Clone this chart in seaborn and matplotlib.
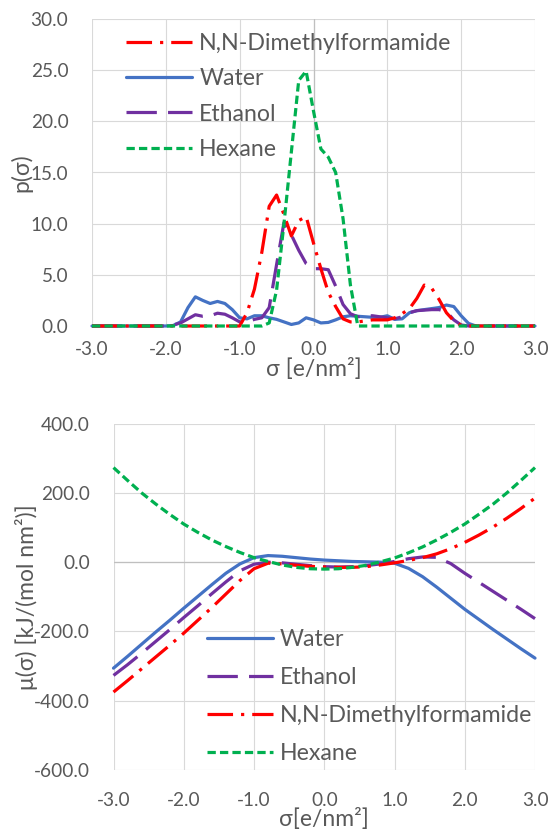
import numpy as np
import matplotlib
matplotlib.use("Agg")
import matplotlib.pyplot as plt
import seaborn as sns
from matplotlib.ticker import MultipleLocator, StrMethodFormatter

# sigma grid of the sigma-profile (top) and values
sigma_p = np.round(np.arange(-30, 31) / 10, 1)
water_p = [0, 0, 0, 0, 0, 0, 0, 0, 0, 0, 0,
           0.05, 0.4, 1.8, 2.85, 2.5, 2.2, 2.4, 2.2, 1.6, 0.8,
           0.7, 1.0, 1.0, 0.8, 0.65, 0.4, 0.15, 0.3, 0.8, 0.6,
           0.3, 0.35, 0.6, 0.9, 1.0, 0.95, 0.9, 0.85, 0.85, 1.0,
           0.65, 0.7, 1.3, 1.5, 1.6, 1.7, 1.8, 2.05, 1.9, 1.0,
           0.25, 0, 0, 0, 0, 0, 0, 0, 0, 0]
ethanol_p = [0, 0, 0, 0, 0, 0, 0, 0, 0, 0, 0,
             0.1, 0.3, 0.7, 1.1, 0.95, 1.0, 1.25, 1.15, 0.8, 0.4,
             0.4, 0.65, 0.8, 1.8, 6.0, 10.1, 8.9, 7.4, 6.1, 5.6,
             5.6, 5.5, 3.9, 2.1, 1.2, 0.9, 1.0, 1.0, 0.9, 0.8,
             0.7, 0.9, 1.3, 1.5, 1.55, 1.6, 1.6, 1.4, 0.6, 0.1,
             0, 0, 0, 0, 0, 0, 0, 0, 0, 0]
dmf_p = [0, 0, 0, 0, 0, 0, 0, 0, 0, 0, 0,
         0, 0, 0, 0, 0, 0, 0, 0, 0, 0,
         1.3, 3.6, 7.2, 11.7, 12.8, 10.9, 8.8, 10.3, 10.7, 8.1,
         5.6, 3.3, 1.9, 0.7, 0.4, 0.4, 0.5, 0.6, 0.6, 0.6,
         0.8, 1.2, 1.7, 2.7, 4.0, 3.7, 2.6, 1.3, 0.5, 0.05,
         0, 0, 0, 0, 0, 0, 0, 0, 0, 0]
hexane_p = [0, 0, 0, 0, 0, 0, 0, 0, 0, 0, 0,
            0, 0, 0, 0, 0, 0, 0, 0, 0, 0,
            0, 0, 0, 0.3, 3.5, 10.0, 17.0, 24.0, 24.9, 21.0,
            17.3, 16.5, 15.0, 10.5, 4.0, 0, 0, 0, 0, 0,
            0, 0, 0, 0, 0, 0, 0, 0, 0, 0,
            0, 0, 0, 0, 0, 0, 0, 0, 0, 0]

# sigma potential (bottom)
sigma_mu = np.round(np.arange(-15, 16) / 5, 1)
water_mu = [-306, -272, -237, -202, -168, -133, -99, -65, -32, -5, 13,
            19, 17, 13, 9, 6, 4, 2, 1, 0, -3,
            -18, -42, -72, -104, -136, -165, -194, -222, -250, -277]
ethanol_mu = [-327, -296, -263, -229, -195, -160, -126, -91, -57, -25, -6,
              0, -2, -6, -10, -13, -14, -13, -10, -5, 2,
              10, 15, 14, -4, -32, -58, -84, -110, -136, -163]
dmf_mu = [-375, -342, -308, -274, -240, -205, -168, -131, -92, -53, -19,
          -3, -5, -9, -12, -14, -15, -15, -13, -8, -2,
          5, 13, 24, 39, 57, 78, 101, 127, 155, 185]
hexane_mu = [273, 236, 200, 168, 138, 110, 86, 64, 45, 28, 13,
             2, -8, -15, -19, -20, -19, -15, -9, 1, 12,
             27, 44, 64, 86, 110, 138, 167, 200, 236, 273]

names = ["Water", "Ethanol", "N,N-Dimethylformamide", "Hexane"]
colors = {"Water": "#4472C4", "Ethanol": "#7030A0",
          "N,N-Dimethylformamide": "#FF0000", "Hexane": "#00B050"}
styles = {"Water": "-", "Ethanol": (0, (9.5, 3.5)),
          "N,N-Dimethylformamide": (0, (8, 2.5, 1, 2.5)),
          "Hexane": (0, (2.6, 1.3))}
grey = "#595959"

sns.set_style("white")
plt.rcParams["font.family"] = ["Lato", "DejaVu Sans"]
plt.rcParams["axes.unicode_minus"] = False

fig = plt.figure(figsize=(5.51, 8.31), dpi=100)
W, H = 551, 831
ax1 = fig.add_axes([92 / W, 1 - 326 / H, (535 - 92) / W, (326 - 19) / H])
ax2 = fig.add_axes([113.5 / W, 1 - 770 / H, (535 - 113.5) / W, (770 - 423.6) / H])

top = dict(zip(names, [water_p, ethanol_p, dmf_p, hexane_p]))
bot = dict(zip(names, [water_mu, ethanol_mu, dmf_mu, hexane_mu]))

for ax, sig, data in [(ax1, sigma_p, top), (ax2, sigma_mu, bot)]:
    for n in names:
        sns.lineplot(x=sig, y=data[n], ax=ax, color=colors[n], linestyle=styles[n],
                     linewidth=2.3, label=n, legend=False, clip_on=False, zorder=3)
    ax.set_xlim(-3, 3)
    ax.xaxis.set_major_locator(MultipleLocator(1))
    ax.xaxis.set_major_formatter(StrMethodFormatter("{x:.1f}"))
    ax.yaxis.set_major_formatter(StrMethodFormatter("{x:.1f}"))
    ax.grid(True, color="#D9D9D9", linewidth=0.8)
    ax.set_axisbelow(True)
    for s in ax.spines.values():
        s.set_visible(False)
    ax.tick_params(length=0, labelsize=13.7, labelcolor=grey)
    ax.tick_params(axis="y", pad=17)

ax1.set_ylim(0, 30)
ax1.yaxis.set_major_locator(MultipleLocator(5))
ax1.axvline(0, color="#BFBFBF", linewidth=0.9, zorder=1)
ax1.tick_params(axis="x", pad=11)
ax1.set_xlabel("σ [e/nm²]", fontsize=16.5, color=grey, labelpad=0)
ax1.set_ylabel("p(σ)", fontsize=16.5, color=grey, labelpad=-1)

ax2.set_ylim(-600, 400)
ax2.yaxis.set_major_locator(MultipleLocator(200))
ax2.axhline(0, color="#BFBFBF", linewidth=0.9, zorder=1)
ax2.tick_params(axis="x", pad=16)
ax2.set_xlabel("σ[e/nm²]", fontsize=16.5, color=grey, labelpad=-1)
ax2.set_ylabel("μ(σ) [kJ/(mol nm²)]", fontsize=16.5, color=grey, labelpad=-3)

h1 = {l.get_label(): l for l in ax1.get_lines()}
order1 = ["N,N-Dimethylformamide", "Water", "Ethanol", "Hexane"]
ax1.legend([h1[n] for n in order1], order1, loc="upper left", bbox_to_anchor=(0.077, 0.955),
           frameon=False, fontsize=16.7, handlelength=2.85, handletextpad=0.3,
           labelspacing=0.62, borderpad=0, borderaxespad=0, labelcolor=grey)

h2 = {l.get_label(): l for l in ax2.get_lines()}
ax2.legend([h2[n] for n in names], names, loc="upper left", bbox_to_anchor=(0.222, 0.407),
           frameon=False, fontsize=16.7, handlelength=2.85, handletextpad=0.3,
           labelspacing=0.73, borderpad=0, borderaxespad=0, labelcolor=grey)

fig.savefig("out.png", dpi=100)
